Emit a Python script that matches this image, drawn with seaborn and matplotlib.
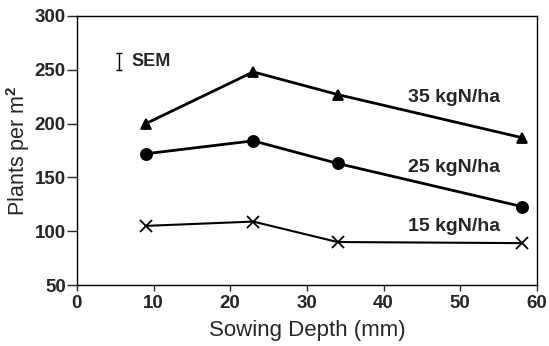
import numpy as np
import pandas as pd
import matplotlib
matplotlib.use("Agg")
import matplotlib.pyplot as plt
import seaborn as sns

depth = [9, 23, 34, 58]
n35 = [200, 248, 227, 187]
n25 = [172, 184, 163, 123]
n15 = [105, 109, 90, 89]
series_labels = ["35 kgN/ha", "25 kgN/ha", "15 kgN/ha"]
label_pos = [(49.2, 224), (49.2, 159), (49.2, 104)]
sem_x, sem_y, sem_err = 5.5, 258, 8

sns.set_style("white")
plt.rcParams['font.family'] = ['Liberation Sans', 'DejaVu Sans']
plt.rcParams['mathtext.fontset'] = 'custom'
plt.rcParams['mathtext.rm'] = 'Liberation Sans'
plt.rcParams['mathtext.bf'] = 'Liberation Sans:bold'

df = pd.DataFrame({
    "depth": depth * 3,
    "plants": n35 + n25 + n15,
    "rate": np.repeat(series_labels, len(depth)),
})

fig = plt.figure(figsize=(5.49, 3.46), dpi=100)
ax = fig.add_axes([0.140, 0.176, 0.838, 0.778])

markers = {"35 kgN/ha": "^", "25 kgN/ha": "o", "15 kgN/ha": "x"}
sizes = {"35 kgN/ha": 7, "25 kgN/ha": 8, "15 kgN/ha": 8}
for lab in series_labels:
    sub = df[df["rate"] == lab]
    sns.lineplot(data=sub, x="depth", y="plants", ax=ax, color="black",
                 lw=2 if lab != "15 kgN/ha" else 1.5,
                 marker=markers[lab], markersize=sizes[lab],
                 markeredgecolor="black", markeredgewidth=1.3,
                 legend=False)

for lab, (tx, ty) in zip(series_labels, label_pos):
    ax.text(tx, ty, lab, ha="center", va="center", fontsize=14, fontweight="bold")

ax.errorbar([sem_x], [sem_y], yerr=[sem_err], color="black", lw=1, capsize=2, capthick=1)
ax.text(sem_x + 1.6, sem_y, "SEM", ha="left", va="center", fontsize=13, fontweight="bold")

ax.set_xlim(0, 60)
ax.set_ylim(50, 300)
ax.set_xticks(range(0, 61, 10))
ax.set_yticks(range(50, 301, 50))
ax.tick_params(axis="both", direction="out", width=1, labelsize=13.5,
               bottom=True, left=True)
ax.tick_params(axis="y", length=7, pad=1)
ax.tick_params(axis="x", length=4, pad=3)
for t in ax.get_xticklabels() + ax.get_yticklabels():
    t.set_fontweight("bold")
for s in ax.spines.values():
    s.set_color("black")
    s.set_linewidth(1)
ax.set_xlabel("Sowing Depth (mm)", fontsize=16, labelpad=6)
ax.set_ylabel("Plants per m$^{\\mathbf{2}}$", fontsize=15.5)
ax.yaxis.set_label_coords(-0.098, 0.5)

fig.savefig("out.png", dpi=100)
